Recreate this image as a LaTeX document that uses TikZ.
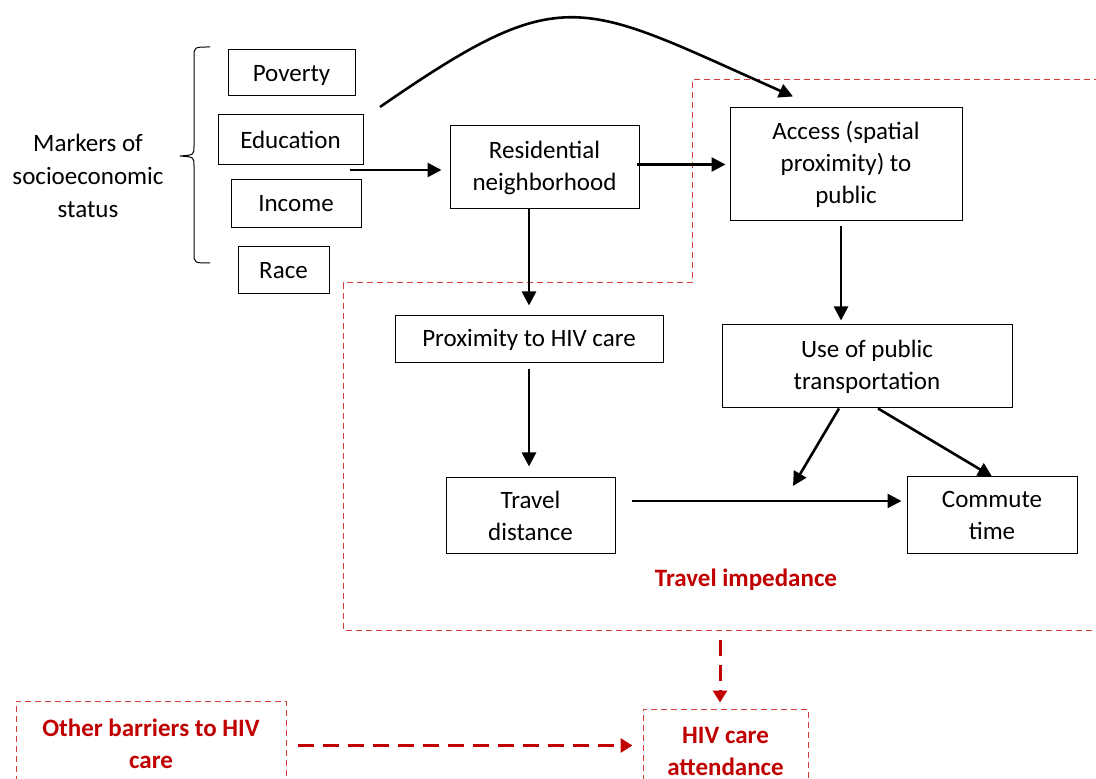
\documentclass[tikz,border=0pt]{standalone}
\usepackage{fontspec}
\setmainfont{Carlito}
\usetikzlibrary{arrows.meta, positioning}
\definecolor{impred}{RGB}{192,0,0}
\definecolor{boxred}{RGB}{212,60,60}

\begin{document}
\begin{tikzpicture}[
    x=0.5pt, y=-0.5pt,
    box/.style={rectangle, draw, line width=0.5pt, align=center, inner sep=0pt, font=\fontsize{12.5}{16}\selectfont},
    redbox/.style={rectangle, draw=boxred, dash pattern=on 3pt off 2pt, line width=0.5pt, align=center, inner sep=0pt, text=impred, font=\fontsize{12.5}{16}\selectfont\bfseries},
    arrow/.style={line width=1.3pt, -{Triangle[length=7pt, width=7pt]}},
    redarrow/.style={impred, line width=1.5pt, dash pattern=on 8pt off 4.5pt, -{Triangle[length=6pt, width=7pt]}}
]
    \clip (0,0) rectangle (1096,779);

    % Markers of socioeconomic status (left column)
    \node [align=center, font=\fontsize{12.5}{16.5}\selectfont] (ses) at (88,176) {Markers of\\socioeconomic\\status};
    \draw [line width=0.5pt] (210,47) .. controls (194,47) .. (194,57) -- (194,146) .. controls (194,155) .. (180,156)
        .. controls (194,157) .. (194,166) -- (194,253) .. controls (194,263) .. (210,263);
    \node [box, minimum width=63.5pt, minimum height=23pt, text depth=0pt] (pov) at (291.5,73) {Poverty};
    \node [box, minimum width=72.5pt, minimum height=25pt, below=9pt of pov, xshift=-0.5pt] (edu) {Education};
    \node [box, minimum width=65pt, minimum height=24pt, below=7pt of edu, xshift=2.75pt] (inc) {Income};
    \node [box, minimum width=45.5pt, minimum height=23.5pt, below=9pt of inc, xshift=-6.25pt] (race) {Race};

    % Neighborhood and access (top row)
    \node [box, minimum width=94.5pt, minimum height=41.5pt] (res) at (544.5,167.5) {Residential\\neighborhood};
    \node [box, minimum width=116pt, minimum height=56.5pt, right=45pt of res, yshift=1.5pt] (acc) {Access (spatial\\proximity) to\\public};

    % Travel impedance (middle rows)
    \node [box, minimum width=134pt, minimum height=23.5pt, below=53pt of res, xshift=-7.75pt] (prox) {Proximity to HIV care};
    \node [box, minimum width=145pt, minimum height=41.5pt, below=51.5pt of acc, xshift=10.5pt] (use) {Use of public\\transportation};
    \node [box, minimum width=84.5pt, minimum height=38pt, below=57pt of prox, xshift=0.75pt] (trav) {Travel\\distance};
    \node [box, minimum width=85pt, minimum height=38.5pt, right=145.5pt of trav, yshift=0.25pt] (comm) {Commute\\time};
    \node [text=impred, font=\fontsize{12.5}{16}\selectfont\bfseries] (imp) at (746,580) {Travel impedance};
    \draw [boxred, dash pattern=on 3pt off 2pt, line width=0.5pt] (1100,80) -- (692,80) -- (692,283) -- (343,283) -- (343,630) -- (1100,630);

    % Outcome (bottom row)
    \node [redbox, minimum width=82.5pt, minimum height=42pt] (hiv) at (725.5,751) {HIV care\\attendance};
    \node [redbox, minimum width=135pt, minimum height=42.5pt, left=178pt of hiv, yshift=3.75pt] (other) {Other barriers to HIV\\care};

    % Connections
    \coordinate (sesout) at (350,170);
    \coordinate (arcstart) at (380,107);
    \coordinate (mid) at (793,486);
    \coordinate (impout) at (720,640);
    \draw [arrow, shorten >=4pt] (sesout) -- (sesout -| res.west);
    \draw [arrow] (arcstart) .. controls (565,-21) and (578,1) .. ([shift={(-53,-11)}]acc.north);
    \draw [arrow, shorten >=2pt] ([xshift=-1.5pt]res.east |- acc.west) -- (acc.west);
    \draw [arrow, shorten >=5pt] (prox.north |- res.south) -- (prox.north);
    \draw [arrow, shorten <=2.5pt, shorten >=2pt] ([xshift=-2.5pt]acc.south) -- ([xshift=-2.5pt]acc.south |- use.north);
    \draw [arrow, shorten <=3pt, shorten >=5.5pt] (prox.south) -- (prox.south |- trav.north);
    \draw [arrow, shorten <=8pt, shorten >=2.5pt] ([yshift=7.5pt]trav.east) -- ([yshift=7.5pt]trav.east -| comm.west);
    \draw [arrow] ([xshift=-14pt]use.south) -- (mid);
    \draw [arrow] ([xshift=5.5pt]use.south) -- (comm.north);
    \draw [redarrow, shorten >=3pt] (impout) -- (impout |- hiv.north);
    \draw [redarrow, shorten <=5.5pt, shorten >=5pt] ([yshift=-1pt]other.east) -- ([yshift=-1pt]other.east -| hiv.west);
\end{tikzpicture}
\end{document}
